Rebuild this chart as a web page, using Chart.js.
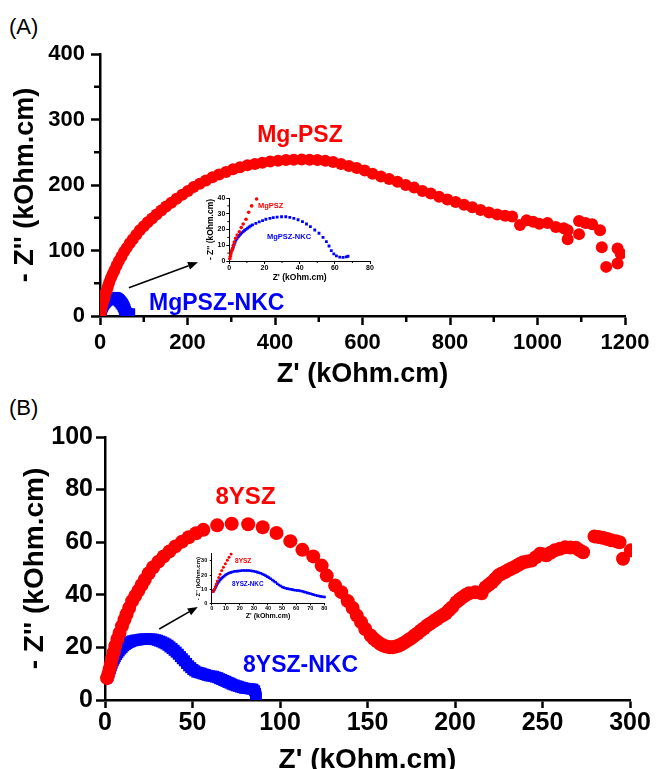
<!DOCTYPE html>
<html>
<head>
<meta charset="utf-8">
<script src="https://cdn.jsdelivr.net/npm/chart.js@4.4.0/dist/chart.umd.min.js"></script>
<style>
body { margin: 0; width: 656px; height: 769px; overflow: hidden; background: #fff; position: relative; font-family: "Liberation Sans", Arial, sans-serif; }
canvas { position: absolute; }
.tag { position: absolute; left: 9px; font-size: 22px; line-height: 22px; color: #000; }
</style>
</head>
<body>
<div class="tag" style="top:16px">(A)</div>
<div class="tag" style="top:397px">(B)</div>
<canvas id="chartA" width="656" height="390" style="left:0;top:0"></canvas>
<canvas id="insetA" width="190" height="97" style="left:190px;top:188px"></canvas>
<canvas id="chartB" width="656" height="395" style="left:0;top:390px"></canvas>
<canvas id="insetB" width="150" height="78" style="left:180px;top:545px"></canvas>
<script>
// ---- Panel A: Mg-PSZ vs MgPSZ-NKC (Z' , -Z'' in kOhm.cm) ----
const mgpszX = [0.3, 0.6, 0.9, 1.2, 1.5, 1.9, 2.3, 2.8, 3.6, 4.5, 5.7, 6.8, 7.9, 9.5, 11, 12.7, 15.5,
  18, 21, 25, 29, 33, 38, 43, 49, 55, 61, 68, 75, 83, 91, 100, 109, 119, 129, 140, 151, 163, 175, 188,
  201, 214, 228, 242, 257, 272, 288, 304, 320, 337, 354, 371, 389, 407, 425, 443, 461, 479, 497, 515,
  533, 551, 569, 587, 605,
  623, 642, 661, 680, 699, 718, 737, 756, 775, 794, 813, 832, 851, 870, 889, 908, 926, 942, 960, 975,
  990, 1004, 1023, 1042, 1060, 1069, 1069, 1095, 1095, 1110, 1125, 1143, 1147, 1157, 1183, 1183, 1190];
const mgpszY = [1.5, 3, 4.5, 6, 7, 8, 10, 12, 14.4, 16.5, 18.6, 21.2, 23.5, 26.5, 31, 35, 39.4,
  45, 51, 58, 64, 70, 77, 84, 91, 98, 104, 111, 117, 124, 131, 137, 143, 149, 155, 161, 167, 173, 179, 185,
  191, 197, 202, 207, 212, 216, 220, 224, 227, 230, 232, 234, 236, 237, 238, 238.5, 239, 238.5, 238, 237,
  235, 232, 229, 226, 222,
  217, 213, 209, 205, 200, 196, 191, 187, 182, 178, 174, 170, 166, 162, 158, 155, 153, 152, 139, 146,
  144, 141, 142, 136, 134, 131, 117, 145, 125, 142, 140, 131, 105, 75, 103, 80, 95];

const mgpszNkcX = [1.9, 2.3, 2.8, 3.3, 3.8, 4.4, 5.1, 5.7, 6.4, 7.1, 7.9, 8.7, 9.5, 10.4, 11.3, 12.2,
  13.2, 15.1, 17, 18.9, 20.8, 23.1, 25, 27.2, 29.7, 32.1, 34.4, 36.7, 39.1, 41.6, 43.9, 46.1, 48.6,
  51, 53.3, 55.2, 56.7, 58, 59.4, 60.9, 62.8, 64.7, 66.5, 67.5];
const mgpszNkcY = [7.6, 9, 10.6, 12, 13.3, 14.4, 15.4, 16.3, 17.1, 17.9, 18.6, 19.4, 20.1, 20.9, 21.6, 22.3,
  22.9, 23.9, 24.8, 25.6, 26.5, 27.1, 27.5, 27.9, 28.1, 28.1, 27.7, 27.1, 26.2, 25, 23.5, 21.8, 19.7,
  17.6, 15, 12.3, 9.5, 6.6, 4.5, 3.2, 2.5, 2.3, 2.6, 3];

// ---- Panel B: 8YSZ vs 8YSZ-NKC ----
const ysz8X = [1.2, 1.9, 2.6, 3.3, 4, 5, 5.9, 7.1, 8.3, 9.7, 11.1, 12.3, 13.8, 15.5, 17.3, 19.1, 20.9,
  22.7, 25, 27.5, 30.5, 33.5, 36.8, 40.2, 44, 47.8, 52, 56.2, 64.1, 72.4, 81.8, 90.1, 98, 105.9, 112.8,
  119, 123.8, 126.7, 131.5, 135, 138.7, 141.5, 143.9, 146.3, 148.7, 151.8, 153.5, 155.4, 157.2, 159,
  160.8, 162.6, 164.4, 166.1, 168, 169.7, 171.5, 173.3, 175.1, 176.9, 178.7, 180.5, 182.3, 184.1,
  185.9, 187.7, 189.5, 191.2, 193, 194.8, 196.6, 198.4, 200.8, 202.6, 204.4, 206.2, 208, 211.6, 215.2,
  217.5, 219.3, 221.1, 222.9, 224.7, 226.5, 228.3, 230.2, 232, 233.8, 235.5, 237.3, 239, 241.4, 243.8,
  246.2, 248.6, 250.4, 252.2, 254.6, 257, 260, 263, 266, 269, 271, 273.2, 279.7, 282, 284.5, 287,
  289.3, 292, 294, 296, 300.5];
const ysz8Y = [8.3, 9.9, 11.8, 13.7, 15.8, 18.2, 20.6, 23.2, 25.5, 28.1, 30.5, 32.6, 35, 37.6, 39.6, 41.6, 43.7,
  45.7, 48.2, 50.5, 52.6, 54.6, 56.5, 58.4, 60.2, 61.9, 63.4, 64.7, 66.4, 67, 66.8, 65.7, 63.5, 60.4, 57.1,
  54.6, 51.1, 47.3, 43.5, 41, 37.6, 35, 32.1, 29.6, 27, 24.5, 23.3, 22.3, 21.4, 20.7,
  20.3, 20.1, 20.1, 20.3, 20.7, 21.3, 22, 22.8, 23.6, 24.5, 25.4, 26.4, 27.3, 28.3,
  29.1, 29.9, 30.7, 31.5, 32.2, 33, 34.2, 35.3, 37.2, 38.2, 39.1, 39.9, 40.6, 41, 40.6,
  42.9, 43.8, 44.8, 46, 47.3, 48, 48.6, 49.3, 49.9, 50.5, 51.1, 51.8, 52.4, 52.7, 53,
  54.3, 55.6, 55.3, 55, 56, 56.9, 57.5, 58.1, 58, 57.9, 57, 56.2, 62.2, 62, 61.7, 61.2,
  60.7, 60.4, 60, 53.7, 56.9];

const ysz8NkcX = [0.7, 1.2, 1.7, 2.2, 2.6, 3.1, 3.6, 4.1, 4.7, 5.3, 5.9, 6.6, 7.3, 8.1, 9, 9.8, 10.7,
  11.6, 12.5, 13.6, 14.7, 15.8, 17, 18.2, 19.4, 20.6, 21.8, 23, 24.1, 25.3, 26.5, 27.7, 28.9, 30, 31.2,
  32.4, 33.6, 34.8, 36, 37.1, 38.3, 39.5, 40.7, 41.9, 43.1, 44.2, 45.4, 46.6, 47.8, 49, 50.2, 51.3,
  52.5, 53.7, 54.9, 56.1, 57.3, 58.4, 59.6, 60.8, 62, 63.2, 64.4, 65.5, 66.7, 67.9, 69.1, 70.3, 71.5,
  72.6, 73.8, 75, 76.2, 77.4, 78.6, 79.7, 81, 82.2, 83.4, 84.5, 85.5, 86, 86.3, 86.5];
const ysz8NkcY = [8.3, 8.8, 9.4, 10.2, 11.1, 12, 13, 14, 14.9, 15.7, 16.5, 17.3, 18, 18.7, 19.4, 20, 20.6,
  21.1, 21.5, 21.9, 22.2, 22.5, 22.7, 22.8, 22.9, 23.1, 23.2, 23.2, 23.2, 23.2, 23.2, 23.1, 22.9, 22.7, 22.4,
  22.1, 21.7, 21.3, 20.8, 20.2, 19.6, 18.9, 18.2, 17.4, 16.5, 15.7, 14.9, 13.9, 13, 12.3, 11.6, 11.1,
  10.6, 10.4, 10.2, 9.9, 9.7, 9.4, 9.2, 9.1, 9, 8.7, 8.5, 8.1, 7.8, 7.4, 7.1, 6.7, 6.4,
  6, 5.7, 5.4, 5.2, 4.9, 4.7, 4.5, 4.4, 4.3, 4.2, 4.1, 3.5, 2.5, 1.5, 0.8];

const RED = '#ff0000';
const BLUE = '#0000ff';
const FONT = '"Liberation Sans", Arial, sans-serif';

Chart.defaults.font.family = FONT;
Chart.defaults.color = '#000';

function pts(xs, ys) {
    return xs.map((x, i) => ({ x: x, y: ys[i] }));
}

// minor ticks, arrow and text labels, all placed with the chart's own scales
const extras = {
    id: 'extras',
    afterDatasetsDraw(chart, args, opts) {
        const ctx = chart.ctx;
        const xs = chart.scales.x, ys = chart.scales.y;
        ctx.save();
        ctx.strokeStyle = '#000';
        ctx.lineWidth = opts.minorWidth || 1;
        (opts.minorX || []).forEach(v => {
            const px = xs.getPixelForValue(v);
            ctx.beginPath();
            ctx.moveTo(px, ys.bottom);
            ctx.lineTo(px, ys.bottom + opts.minorLen);
            ctx.stroke();
        });
        (opts.minorY || []).forEach(v => {
            const py = ys.getPixelForValue(v);
            ctx.beginPath();
            ctx.moveTo(xs.left, py);
            ctx.lineTo(xs.left - opts.minorLen, py);
            ctx.stroke();
        });
        if (opts.arrow) {
            const a = opts.arrow;
            const x1 = xs.getPixelForValue(a.from[0]), y1 = ys.getPixelForValue(a.from[1]);
            const x2 = xs.getPixelForValue(a.to[0]), y2 = ys.getPixelForValue(a.to[1]);
            const ang = Math.atan2(y2 - y1, x2 - x1);
            const hl = 10, hw = 4;
            ctx.lineWidth = 1.6;
            ctx.beginPath();
            ctx.moveTo(x1, y1);
            ctx.lineTo(x2 - hl * Math.cos(ang), y2 - hl * Math.sin(ang));
            ctx.stroke();
            ctx.fillStyle = '#000';
            ctx.beginPath();
            ctx.moveTo(x2, y2);
            ctx.lineTo(x2 - hl * Math.cos(ang) + hw * Math.sin(ang), y2 - hl * Math.sin(ang) - hw * Math.cos(ang));
            ctx.lineTo(x2 - hl * Math.cos(ang) - hw * Math.sin(ang), y2 - hl * Math.sin(ang) + hw * Math.cos(ang));
            ctx.closePath();
            ctx.fill();
        }
        (opts.labels || []).forEach(l => {
            ctx.font = 'bold ' + l.size + 'px ' + FONT;
            ctx.fillStyle = l.color;
            ctx.textAlign = l.align || 'left';
            ctx.textBaseline = 'middle';
            ctx.fillText(l.text, xs.getPixelForValue(l.x), ys.getPixelForValue(l.y));
        });
        ctx.restore();
    }
};

// axis options shared by all four plots
function axis(o) {
    return {
        type: 'linear',
        min: o.min, max: o.max,
        ticks: {
            stepSize: o.step, color: '#000', padding: o.pad, maxRotation: 0, autoSkip: false,
            font: { size: o.font, weight: 'bold', lineHeight: 1.2 },
            callback: v => String(v)
        },
        afterBuildTicks: s => { s.ticks = s.ticks.filter(t => Math.abs(t.value / o.step - Math.round(t.value / o.step)) < 1e-6); },
        grid: { drawOnChartArea: false, tickLength: o.tickLen, tickWidth: o.lw, color: '#000' },
        border: { color: '#000', width: o.lw },
        title: {
            display: true, text: o.title, color: '#000',
            font: { size: o.titleSize, weight: 'bold', lineHeight: 1.1 },
            padding: o.titlePad
        },
        afterFit: o.fit
    };
}

function baseOptions(padding, scales, extra) {
    return {
        responsive: false,
        animation: false,
        events: [],
        layout: { padding: padding },
        plugins: { legend: { display: false }, tooltip: { enabled: false }, extras: extra },
        scales: scales
    };
}

// ---- main plot A ----
new Chart(document.getElementById('chartA'), {
    type: 'scatter',
    data: {
        datasets: [
            { data: pts(mgpszX, mgpszY), pointStyle: 'circle', pointRadius: 6, pointBackgroundColor: RED, pointBorderWidth: 0 },
            { data: pts(mgpszNkcX, mgpszNkcY), pointStyle: 'rect', pointRadius: 8, pointBackgroundColor: BLUE, pointBorderWidth: 0 }
        ]
    },
    options: baseOptions({ left: 0, top: 54, right: 31, bottom: 0 }, {
        x: axis({ min: 0, max: 1200, step: 200, pad: 5, font: 22, tickLen: 9, lw: 2.5,
            title: "Z' (kOhm.cm)", titleSize: 27, titlePad: { top: 0, bottom: 1 }, fit: s => { s.height = 74; } }),
        y: axis({ min: 0, max: 400, step: 100, pad: 6, font: 22, tickLen: 9, lw: 2.5,
            title: "- Z'' (kOhm.cm)", titleSize: 27, titlePad: { top: 11, bottom: 0 }, fit: s => { s.width = 100; } })
    }, {
        minorX: [100, 300, 500, 700, 900, 1100], minorY: [50, 150, 250, 350], minorLen: 6, minorWidth: 2.5,
        arrow: { from: [66, 43], to: [224, 82] },
        labels: [
            { text: 'Mg-PSZ', x: 457, y: 275, size: 23, color: RED, align: 'center' },
            { text: 'MgPSZ-NKC', x: 112, y: 18.3, size: 23, color: BLUE }
        ]
    }),
    plugins: [extras]
});

// ---- inset A ----
new Chart(document.getElementById('insetA'), {
    type: 'scatter',
    data: {
        datasets: [
            { data: pts(mgpszX, mgpszY), pointStyle: 'circle', pointRadius: 1.8, pointBackgroundColor: RED, pointBorderWidth: 0, clip: 2 },
            { data: pts(mgpszNkcX, mgpszNkcY), pointStyle: 'rect', pointRadius: 2, pointBackgroundColor: BLUE, pointBorderWidth: 0, clip: 2 }
        ]
    },
    options: baseOptions({ left: 0, top: 10, right: 10, bottom: 0 }, {
        x: axis({ min: 0, max: 80, step: 20, pad: 0, font: 7, tickLen: 3, lw: 1,
            title: "Z' (kOhm.cm)", titleSize: 8.5, titlePad: { top: 0, bottom: 2.5 }, fit: s => { s.height = 24; } }),
        y: axis({ min: 0, max: 40, step: 10, pad: 1, font: 7, tickLen: 3, lw: 1,
            title: "- Z'' (kOhm.cm)", titleSize: 8.5, titlePad: { top: 16, bottom: 0 }, fit: s => { s.width = 39.3; } })
    }, {
        minorX: [10, 30, 50, 70], minorY: [5, 15, 25, 35], minorLen: 2, minorWidth: 1,
        labels: [
            { text: 'MgPSZ', x: 16.3, y: 35.1, size: 7.5, color: RED },
            { text: 'MgPSZ-NKC', x: 21.4, y: 15.3, size: 7.5, color: BLUE }
        ]
    }),
    plugins: [extras]
});

// ---- main plot B ----
new Chart(document.getElementById('chartB'), {
    type: 'scatter',
    data: {
        datasets: [
            { data: pts(ysz8X, ysz8Y), pointStyle: 'circle', pointRadius: 7, pointBackgroundColor: RED, pointBorderWidth: 0,
              clip: { left: 20, top: 20, right: 2, bottom: 20 } },
            { data: pts(ysz8NkcX, ysz8NkcY), pointStyle: 'rect', pointRadius: 7.8, pointBackgroundColor: BLUE, pointBorderWidth: 0 }
        ]
    },
    options: baseOptions({ left: 0, top: 47, right: 26, bottom: 0 }, {
        x: axis({ min: 0, max: 300, step: 50, pad: 0, font: 25, tickLen: 8, lw: 2.5,
            title: "Z' (kOhm.cm)", titleSize: 28, titlePad: { top: 0, bottom: 9.6 }, fit: s => { s.height = 85; } }),
        y: axis({ min: 0, max: 100, step: 20, pad: 3, font: 25, tickLen: 9, lw: 2.5,
            title: "- Z'' (kOhm.cm)", titleSize: 28, titlePad: { top: 20, bottom: 0 }, fit: s => { s.width = 105; } })
    }, {
        arrow: { from: [31, 27], to: [53, 35.4] },
        labels: [
            { text: '8YSZ', x: 80.3, y: 77.2, size: 24, color: RED, align: 'center' },
            { text: '8YSZ-NKC', x: 78.9, y: 13.1, size: 23, color: BLUE }
        ]
    }),
    plugins: [extras]
});

// ---- inset B ----
new Chart(document.getElementById('insetB'), {
    type: 'scatter',
    data: {
        datasets: [
            { data: pts(ysz8X, ysz8Y), pointStyle: 'circle', pointRadius: 1.5, pointBackgroundColor: RED, pointBorderWidth: 0, clip: 1.5 },
            { data: pts(ysz8NkcX, ysz8NkcY), pointStyle: 'rect', pointRadius: 1.8, pointBackgroundColor: BLUE, pointBorderWidth: 0, clip: 1.5 }
        ]
    },
    options: baseOptions({ left: 0, top: 8.9, right: 5.7, bottom: 0 }, {
        x: axis({ min: 0, max: 80, step: 10, pad: 0, font: 5.5, tickLen: 2, lw: 1,
            title: "Z' (kOhm.cm)", titleSize: 7, titlePad: { top: 0, bottom: 3 }, fit: s => { s.height = 19.7; } }),
        y: axis({ min: 0, max: 35, step: 10, pad: 2.5, font: 5.5, tickLen: 2, lw: 1,
            title: "- Z'' (kOhm.cm)", titleSize: 6, titlePad: { top: 14.7, bottom: 0 }, fit: s => { s.width = 31.7; } })
    }, {
        labels: [
            { text: '8YSZ', x: 16.6, y: 30, size: 6.5, color: RED },
            { text: '8YSZ-NKC', x: 14.4, y: 13.7, size: 6.3, color: BLUE }
        ]
    }),
    plugins: [extras]
});
</script>
</body>
</html>
